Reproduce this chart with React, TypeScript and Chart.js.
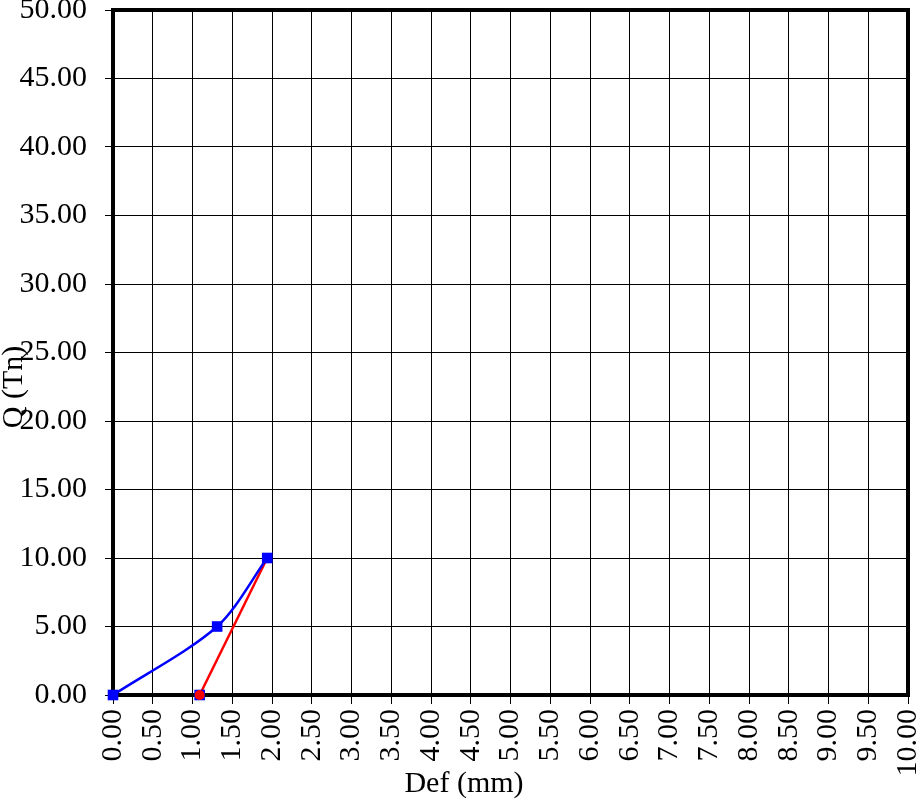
import React, { useEffect, useRef } from "react";
import { Chart, registerables } from "chart.js";

Chart.register(...registerables);

const loadDef = [0, 1.31, 1.94];
const loadQ = [0, 5, 10];
const unloadDef = [1.09, 1.94];
const unloadQ = [0, 10];

const xTitle = "Def (mm)";
const yTitle = "Q (Tn)";
const FONT = "'Liberation Serif', 'Times New Roman', serif";
const FS = 30;

const pts = (xs: number[], ys: number[]) => xs.map((x, i) => ({ x, y: ys[i] }));

const framePlugin = {
  id: "frame",
  afterDraw(chart: any) {
    const { ctx, chartArea: a } = chart;
    ctx.save();
    ctx.fillStyle = "#000";
    ctx.font = `${FS}px ${FONT}`;
    ctx.textAlign = "center";
    ctx.textBaseline = "middle";
    ctx.fillText(xTitle, 464, 784);
    ctx.translate(14, 387);
    ctx.rotate(-Math.PI / 2);
    ctx.fillText(yTitle, 0, 0);
    ctx.restore();
  },
  beforeDatasetsDraw(chart: any) {
    const { ctx, chartArea: a } = chart;
    ctx.save();
    ctx.strokeStyle = "#000";
    ctx.lineWidth = 4;
    ctx.strokeRect(a.left, a.top, a.right - a.left, a.bottom - a.top);
    ctx.restore();
  },
};

export default function App() {
  const ref = useRef<HTMLCanvasElement>(null);
  useEffect(() => {
    if (!ref.current) return;
    const chart = new Chart(ref.current, {
      type: "scatter",
      data: {
        datasets: [
          {
            data: pts(unloadDef.slice(0, 1), unloadQ.slice(0, 1)),
            showLine: false,
            clip: false,
            pointStyle: "circle",
            pointRadius: 5,
            backgroundColor: "#ff0000",
            borderColor: "#ff0000",
            borderWidth: 0,
          },
          {
            data: pts(unloadDef.slice(0, 1), unloadQ.slice(0, 1)),
            showLine: false,
            clip: false,
            pointStyle: "rect",
            pointRadius: 7.5,
            backgroundColor: "#0000ff",
            borderColor: "#0000ff",
            borderWidth: 0,
          },
          {
            data: pts(loadDef, loadQ),
            showLine: true,
            clip: false,
            tension: 0.3,
            borderColor: "#0000ff",
            borderWidth: 2.5,
            pointStyle: "rect",
            pointRadius: 7.5,
            backgroundColor: "#0000ff",
            pointBorderWidth: 0,
          },
          {
            data: pts(unloadDef, unloadQ),
            showLine: true,
            clip: false,
            tension: 0,
            borderColor: "#ff0000",
            borderWidth: 2.5,
            pointRadius: 0,
          },
        ],
      },
      options: {
        animation: false,
        responsive: false,
        devicePixelRatio: 1,
        layout: { padding: { top: 10, right: 11, left: 0, bottom: 0 } },
        plugins: { legend: { display: false }, tooltip: { enabled: false } },
        scales: {
          x: {
            type: "linear",
            min: 0,
            max: 10,
            border: { display: false },
            grid: { color: "#000", lineWidth: 1, tickLength: 9, tickColor: "#000" },
            ticks: {
              stepSize: 0.5,
              autoSkip: false,
              maxRotation: 90,
              minRotation: 90,
              padding: 5,
              color: "#000",
              font: { family: FONT, size: FS },
              callback: (v: any) => Number(v).toFixed(2),
            },
            afterFit: (s: any) => {
              s.height = 105;
              s.paddingLeft = 0;
              s.paddingRight = 0;
            },
          },
          y: {
            type: "linear",
            min: 0,
            max: 50,
            border: { display: false },
            grid: { color: "#000", lineWidth: 1, tickLength: 8, tickColor: "#000" },
            ticks: {
              stepSize: 5,
              padding: 18,
              color: "#000",
              font: { family: FONT, size: FS },
              callback: (v: any) => Number(v).toFixed(2),
            },
            afterFit: (s: any) => {
              s.width = 113;
              s.paddingTop = 0;
              s.paddingBottom = 0;
            },
          },
        },
      },
      plugins: [framePlugin],
    });
    return () => chart.destroy();
  }, []);
  return (
    <div style={{ position: "absolute", left: 0, top: 0, width: 919, height: 800, background: "#fff" }}>
      <canvas ref={ref} width={919} height={800} style={{ width: 919, height: 800 }} />
    </div>
  );
}
